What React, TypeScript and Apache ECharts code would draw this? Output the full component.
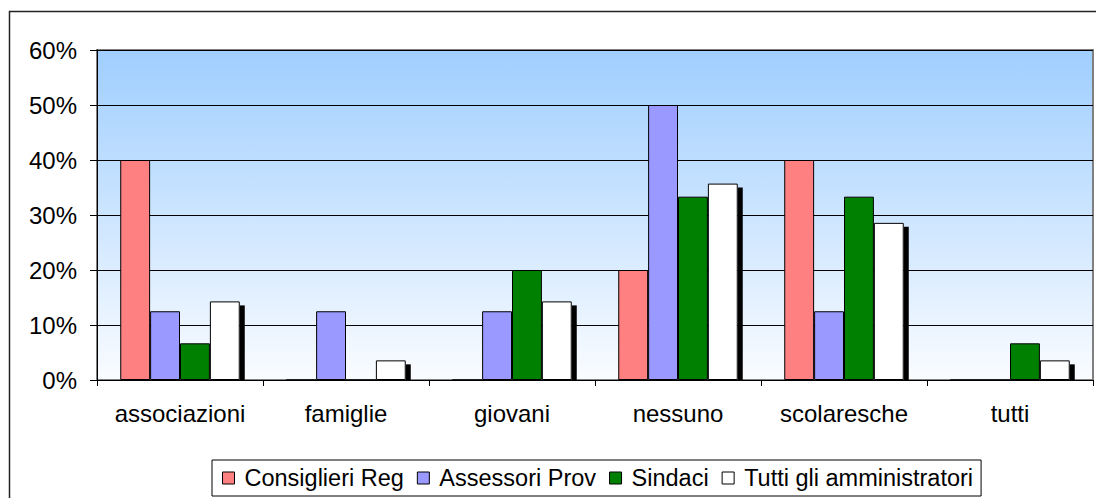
import React, { useEffect, useRef } from "react";
import * as echarts from "echarts";

const categories = ["associazioni", "famiglie", "giovani", "nessuno", "scolaresche", "tutti"];
const seriesNames = ["Consiglieri Reg", "Assessori Prov", "Sindaci", "Tutti gli amministratori"];
const consiglieriReg = [40, 0, 0, 20, 40, 0];
const assessoriProv = [12.5, 12.5, 12.5, 50, 12.5, 0];
const sindaci = [6.67, 0, 20, 33.33, 33.33, 6.67];
const tuttiAmministratori = [14.29, 3.57, 14.29, 35.71, 28.57, 3.57];
const yTicks = [0, 10, 20, 30, 40, 50, 60];
const colors = ["#FF8080", "#9999FF", "#008000", "#FFFFFF"];

const FONT = "'Liberation Sans', Arial, sans-serif";
const CAT_GAP = 0.28;

export default function App() {
  const ref = useRef<HTMLDivElement>(null);
  useEffect(() => {
    if (!ref.current) return;
    const chart = echarts.init(ref.current, undefined, { renderer: "svg" });
    const values = [consiglieriReg, assessoriProv, sindaci, tuttiAmministratori];
    const barSeries = values.map((vals, i) => ({
      name: seriesNames[i],
      type: "bar",
      data: vals,
      barGap: "0%",
      barCategoryGap: CAT_GAP * 100 + "%",
      itemStyle: { color: colors[i], borderColor: "#000", borderWidth: 1 },
      z: 3,
    }));
    const shadowSeries = {
      name: "shadow",
      type: "custom",
      data: tuttiAmministratori.map((v, i) => [i, v]),
      z: 2,
      renderItem: (params: any, api: any) => {
        const cat = api.value(0);
        const val = api.value(1);
        if (!(val > 0)) return null;
        const top = api.coord([cat, val]);
        const base = api.coord([cat, 0]);
        const bandW = api.size([1, 0])[0];
        const groupW = bandW * (1 - CAT_GAP);
        const x = top[0] + groupW / 2;
        return {
          type: "rect",
          shape: { x: x, y: top[1] + 4, width: 5, height: base[1] - top[1] - 4 },
          style: { fill: "#000" },
        };
      },
    };
    chart.setOption({
      animation: false,
      textStyle: { fontFamily: FONT },
      grid: {
        left: 97,
        right: 3,
        top: 50,
        bottom: 118,
        show: true,
        borderColor: "#808080",
        borderWidth: 2,
        backgroundColor: new echarts.graphic.LinearGradient(0, 0, 0, 1, [
          { offset: 0, color: "#9FCEFF" },
          { offset: 1, color: "#FAFCFF" },
        ]),
      },
      graphic: [
        {
          type: "rect",
          shape: { x: 9.5, y: 11.5, width: 1200, height: 600 },
          style: { fill: "none", stroke: "#222", lineWidth: 1.5 },
          silent: true,
          z: -10,
        },
      ],
      legend: {
        data: seriesNames,
        left: 212,
        top: 460,
        padding: [6, 8, 6, 10],
        borderColor: "#000",
        borderWidth: 1,
        icon: "rect",
        itemWidth: 12,
        itemHeight: 12,
        itemGap: 13,
        itemStyle: { borderColor: "#000", borderWidth: 1 },
        textStyle: { fontSize: 23.5, color: "#000", fontFamily: FONT, padding: [0, 0, 0, 5] },
      },
      xAxis: {
        type: "category",
        data: categories,
        axisLine: { lineStyle: { color: "#000", width: 1 } },
        axisTick: { show: true, interval: 0, length: 6, lineStyle: { color: "#000" } },
        axisLabel: { interval: 0, fontSize: 24, color: "#000", margin: 21, fontFamily: FONT },
      },
      yAxis: {
        type: "value",
        min: 0,
        max: 60,
        interval: 10,
        axisLine: { show: true, lineStyle: { color: "#000", width: 1 } },
        axisTick: { show: true, length: 7, lineStyle: { color: "#000" } },
        axisLabel: {
          fontSize: 24,
          color: "#000",
          margin: 20,
          fontFamily: FONT,
          formatter: (v: number) => (yTicks.includes(v) ? v + "%" : ""),
        },
        splitLine: { show: true, lineStyle: { color: "#000", width: 1 } },
      },
      series: [...barSeries, shadowSeries],
    });
    return () => chart.dispose();
  }, []);
  return (
    <div
      ref={ref}
      style={{ position: "fixed", left: 0, top: 0, width: 1096, height: 498, background: "#fff" }}
    />
  );
}
